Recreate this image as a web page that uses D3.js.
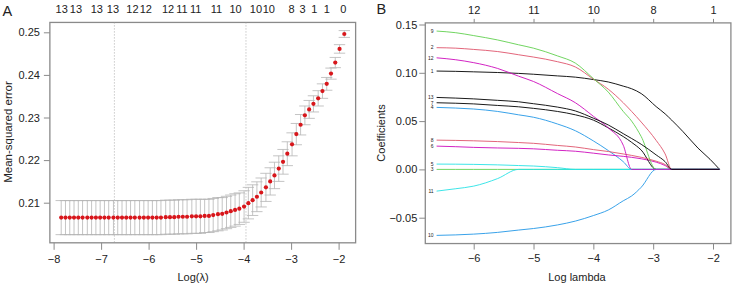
<!DOCTYPE html>
<html>
<head>
<meta charset="utf-8">
<script src="https://cdn.jsdelivr.net/npm/d3@7"></script>
<style>
  body { margin: 0; background: #fff; }
  text { font-family: "Liberation Sans", Arial, sans-serif; fill: #222; }
</style>
</head>
<body>
<div id="chart"></div>
<script>
// ---- panel A: cross-validated error ----
const cvLogLambda = [-7.84,-7.75,-7.66,-7.57,-7.48,-7.39,-7.29,-7.20,-7.11,-7.02,-6.93,-6.84,-6.74,-6.65,-6.56,-6.47,-6.38,-6.29,-6.19,-6.10,
  -6.01,-5.92,-5.83,-5.74,-5.64,-5.55,-5.46,-5.37,-5.28,-5.19,-5.09,-5.00,-4.91,-4.82,-4.73,-4.64,-4.54,-4.45,-4.36,-4.27,
  -4.18,-4.09,-3.99,-3.90,-3.81,-3.72,-3.63,-3.53,-3.44,-3.35,-3.26,-3.17,-3.08,-2.98,-2.89,-2.80,-2.71,-2.62,-2.53,-2.43,
  -2.34,-2.25,-2.16,-2.07,-1.98,-1.88];
const cvMean = [0.2065,0.2065,0.2065,0.2065,0.2065,0.2065,0.2065,0.2065,0.2065,0.2065,0.2065,0.2065,0.2065,0.2065,0.2065,0.2065,0.2065,0.2065,0.2065,0.2065,
  0.2065,0.2065,0.2065,0.2065,0.2066,0.2066,0.2066,0.2067,0.2067,0.2067,0.2068,0.2068,0.2068,0.2069,0.2069,0.2071,0.2073,0.2074,0.2077,0.2080,
  0.2083,0.2086,0.2091,0.2099,0.2106,0.2114,0.2124,0.2136,0.2150,0.2164,0.2180,0.2196,0.2215,0.2237,0.2261,0.2283,0.2305,0.2319,0.2332,0.2345,
  0.2362,0.2379,0.2403,0.2429,0.2461,0.2496];
const cvSe = [0.0040,0.0040,0.0040,0.0040,0.0040,0.0040,0.0040,0.0040,0.0040,0.0040,0.0040,0.0040,0.0040,0.0040,0.0040,0.0040,0.0040,0.0040,0.0040,0.0040,
  0.0040,0.0040,0.0040,0.0040,0.0040,0.0040,0.0040,0.0040,0.0040,0.0040,0.0040,0.0040,0.0040,0.0039,0.0039,0.0039,0.0039,0.0038,0.0038,0.0038,
  0.0038,0.0037,0.0037,0.0037,0.0036,0.0035,0.0034,0.0033,0.0032,0.0031,0.0030,0.0029,0.0028,0.0027,0.0025,0.0024,0.0022,0.0021,0.0019,0.0018,
  0.0017,0.0015,0.0013,0.0012,0.0010,0.0008];
const lambdaMin = -6.72, lambda1se = -3.95;
const topPosA = [-7.83,-7.53,-7.09,-6.75,-6.34,-6.06,-5.59,-5.30,-5.01,-4.57,-4.17,-3.74,-3.47,-2.99,-2.76,-2.51,-2.25,-1.90];
const topNzA = ["13","13","13","13","12","12","12","11","11","11","10","10","10","8","3","1","1","0"];
const xTicksA = [-8,-7,-6,-5,-4,-3,-2];
const yTicksA = [0.21,0.22,0.23,0.24,0.25];

// ---- panel B: coefficient paths ----
const pathLogLambda = [-6.62,-6.3,-6.0,-5.6,-5.25,-5.0,-4.6,-4.3,-4.0,-3.75,-3.5,-3.36,-3.2,-2.95,-2.8,-2.69,-2.5,-2.25,-2.05,-1.89];
const coef1  = [0.1018,0.1015,0.1010,0.1003,0.0994,0.0985,0.0968,0.0955,0.0930,0.0905,0.0862,0.0835,0.0785,0.0650,0.0575,0.0510,0.0390,0.0220,0.0105,0];
const coef2  = [0.1260,0.1255,0.1242,0.1220,0.1187,0.1163,0.1115,0.1060,0.0935,0.0830,0.0690,0.0600,0.0490,0.0300,0.0160,0,0,0,0,0];
const coef3  = [0,0,0,0,0,0,0,0,0,0,0,0,0,0,0,0,0,0,0,0];
const coef4  = [0.0642,0.0635,0.0625,0.0600,0.0565,0.0540,0.0470,0.0400,0.0295,0.0195,0.0080,0,0,0,0,0,0,0,0,0];
const coef5  = [0.0055,0.0054,0.0052,0.0047,0.0040,0.0035,0.0018,0,0,0,0,0,0,0,0,0,0,0,0,0];
const coef6  = [0.0241,0.0235,0.0228,0.0222,0.0218,0.0213,0.0198,0.0188,0.0168,0.0150,0.0135,0.0125,0.0110,0.0075,0.0040,0,0,0,0,0];
const coef7  = [0.0690,0.0685,0.0678,0.0662,0.0648,0.0632,0.0600,0.0565,0.0510,0.0430,0.0340,0.0280,0.0200,0,0,0,0,0,0,0];
const coef8  = [0.0303,0.0300,0.0296,0.0288,0.0278,0.0270,0.0248,0.0232,0.0205,0.0185,0.0160,0.0145,0.0125,0.0085,0.0050,0,0,0,0,0];
const coef9  = [0.1432,0.1415,0.1385,0.1340,0.1290,0.1255,0.1175,0.1100,0.0940,0.0800,0.0600,0.0500,0.0340,0,0,0,0,0,0,0];
const coef10 = [-0.0683,-0.0678,-0.0670,-0.0652,-0.0628,-0.0612,-0.0575,-0.0535,-0.0478,-0.0420,-0.0325,-0.0275,-0.0185,0,0,0,0,0,0,0];
const coef11 = [-0.0225,-0.0200,-0.0173,-0.0095,0,0,0,0,0,0,0,0,0,0,0,0,0,0,0,0];
const coef12 = [0.1155,0.1135,0.1105,0.1045,0.0965,0.0910,0.0785,0.0690,0.0550,0.0430,0.0250,0,0,0,0,0,0,0,0,0];
const coef13 = [0.0745,0.0738,0.0730,0.0715,0.0700,0.0680,0.0645,0.0605,0.0530,0.0460,0.0370,0.0320,0.0260,0.0150,0.0080,0,0,0,0,0];
const coefs = [coef1,coef2,coef3,coef4,coef5,coef6,coef7,coef8,coef9,coef10,coef11,coef12,coef13];
const topPosB = [-6,-5,-4,-3,-2];
const topNzB = ["12","11","10","8","1"];
const xTicksB = [-6,-5,-4,-3,-2];
const yTicksB = [-0.05,0,0.05,0.10,0.15];

// R default palette, matplot cycles col = 1:6
const palette = ["#000000","#DF536B","#61D04F","#2297E6","#28E2E5","#CD0BBC"];
const boxCol = "#8a8a8a";
const fs = "11px";

const svg = d3.select("#chart").append("svg")
    .attr("width", 732).attr("height", 284);

function ext(lo, hi) { const d = (hi - lo) * 0.04; return [lo - d, hi + d]; }

// ================= panel A =================
const xA = d3.scaleLinear().domain([-8, -2]).range([53.6, 338.6]);
const yA = d3.scaleLinear().domain([0.21, 0.25]).range([202.7, 32.3]);
const upper = cvMean.map((m, i) => m + cvSe[i]);
const lower = cvMean.map((m, i) => m - cvSe[i]);
const xlimA = ext(d3.min(cvLogLambda), d3.max(cvLogLambda));
const ylimA = ext(d3.min(lower), d3.max(upper));

const gA = svg.append("g");
gA.append("rect")
    .attr("x", xA(xlimA[0])).attr("y", yA(ylimA[1]))
    .attr("width", xA(xlimA[1]) - xA(xlimA[0]))
    .attr("height", yA(ylimA[0]) - yA(ylimA[1]))
    .attr("fill", "none").attr("stroke", boxCol).attr("stroke-width", 1.3);

// dotted lines at lambda.min and lambda.1se
gA.selectAll(".vline").data([lambdaMin, lambda1se]).enter().append("line")
    .attr("x1", d => xA(d)).attr("x2", d => xA(d))
    .attr("y1", yA(ylimA[1])).attr("y2", yA(ylimA[0]))
    .attr("stroke", "#999").attr("stroke-width", 0.8).attr("stroke-dasharray", "1,2");

// error bars
const barw = (d3.max(cvLogLambda) - d3.min(cvLogLambda)) * 0.02;
const eb = gA.append("g").attr("stroke", "#b5b5b5").attr("stroke-width", 0.8);
cvLogLambda.forEach((l, i) => {
  eb.append("line").attr("x1", xA(l)).attr("x2", xA(l)).attr("y1", yA(upper[i])).attr("y2", yA(lower[i]));
  eb.append("line").attr("x1", xA(l - barw)).attr("x2", xA(l + barw)).attr("y1", yA(upper[i])).attr("y2", yA(upper[i]));
  eb.append("line").attr("x1", xA(l - barw)).attr("x2", xA(l + barw)).attr("y1", yA(lower[i])).attr("y2", yA(lower[i]));
});

// points
gA.selectAll(".pt").data(cvMean).enter().append("circle")
    .attr("cx", (d, i) => xA(cvLogLambda[i]))
    .attr("cy", d => yA(d))
    .attr("r", 2.1)
    .attr("fill", "#d8161b");

// axes
const axA_y = gA.append("g").attr("transform", `translate(${xA(xlimA[0])},0)`)
    .call(d3.axisLeft(yA).tickValues(yTicksA).tickFormat(d3.format(".2f")).tickSize(6).tickPadding(4));
const axA_x = gA.append("g").attr("transform", `translate(0,${yA(ylimA[0])})`)
    .call(d3.axisBottom(xA).tickValues(xTicksA).tickFormat(d3.format("d")).tickSize(7).tickPadding(5));
[axA_y, axA_x].forEach(a => {
  a.select(".domain").remove();
  a.selectAll("line").attr("stroke", boxCol);
  a.selectAll("text").style("font-size", fs).attr("fill", "#222");
});

// top axis: number of nonzero coefficients
gA.selectAll(".topA").data(topNzA).enter().append("text")
    .attr("x", (d, i) => xA(topPosA[i]))
    .attr("y", 13.2)
    .attr("text-anchor", "middle")
    .style("font-size", fs)
    .text(d => d);

gA.append("text").attr("x", 193).attr("y", 280.5).attr("text-anchor", "middle")
    .style("font-size", fs).text("Log(λ)");
gA.append("text").attr("transform", "translate(11.5,132) rotate(-90)")
    .attr("text-anchor", "middle").style("font-size", "11.5px").text("Mean-squared error");
gA.append("text").attr("x", 2.5).attr("y", 15.5).style("font-size", "14.5px").text("A");

// ================= panel B =================
const xB = d3.scaleLinear().domain([-6, -2]).range([473.7, 713]);
const yB = d3.scaleLinear().domain([-0.05, 0.15]).range([217.7, 24.5]);
const xlimB = ext(d3.min(pathLogLambda), d3.max(pathLogLambda));
const ylimB = ext(d3.min(coefs.flat()), d3.max(coefs.flat()));

const gB = svg.append("g");
gB.append("rect")
    .attr("x", xB(xlimB[0])).attr("y", yB(ylimB[1]))
    .attr("width", xB(xlimB[1]) - xB(xlimB[0]))
    .attr("height", yB(ylimB[0]) - yB(ylimB[1]))
    .attr("fill", "none").attr("stroke", boxCol).attr("stroke-width", 1.3);

const line = d3.line()
    .x((d, i) => xB(pathLogLambda[i]))
    .y(d => yB(d))
    .curve(d3.curveMonotoneX);

gB.selectAll(".path").data(coefs).enter().append("path")
    .attr("d", d => line(d))
    .attr("fill", "none")
    .attr("stroke", (d, i) => palette[i % 6])
    .attr("stroke-width", 0.9);

// variable labels at left end
gB.selectAll(".lab").data(coefs).enter().append("text")
    .attr("x", xB(pathLogLambda[0]) - 3)
    .attr("y", d => yB(d[0]) + 1.8)
    .attr("text-anchor", "end")
    .style("font-size", "5px")
    .text((d, i) => i + 1);

const axB_y = gB.append("g").attr("transform", `translate(${xB(xlimB[0])},0)`)
    .call(d3.axisLeft(yB).tickValues(yTicksB).tickFormat(d3.format(".2f")).tickSize(6).tickPadding(2));
const axB_x = gB.append("g").attr("transform", `translate(0,${yB(ylimB[0])})`)
    .call(d3.axisBottom(xB).tickValues(xTicksB).tickFormat(d3.format("d")).tickSize(6).tickPadding(4.5));
const axB_top = gB.append("g").attr("transform", `translate(0,${yB(ylimB[1])})`)
    .call(d3.axisTop(xB).tickValues(topPosB).tickFormat((d, i) => topNzB[i]).tickSize(4).tickPadding(5));
[axB_y, axB_x, axB_top].forEach(a => {
  a.select(".domain").remove();
  a.selectAll("line").attr("stroke", boxCol);
  a.selectAll("text").style("font-size", fs).attr("fill", "#222");
});

gB.append("text").attr("x", 577).attr("y", 281).attr("text-anchor", "middle")
    .style("font-size", fs).text("Log lambda");
gB.append("text").attr("transform", "translate(384.5,133) rotate(-90)")
    .attr("text-anchor", "middle").style("font-size", fs).text("Coefficients");
gB.append("text").attr("x", 376.5).attr("y", 13.8).style("font-size", "14.5px").text("B");
</script>
</body>
</html>
